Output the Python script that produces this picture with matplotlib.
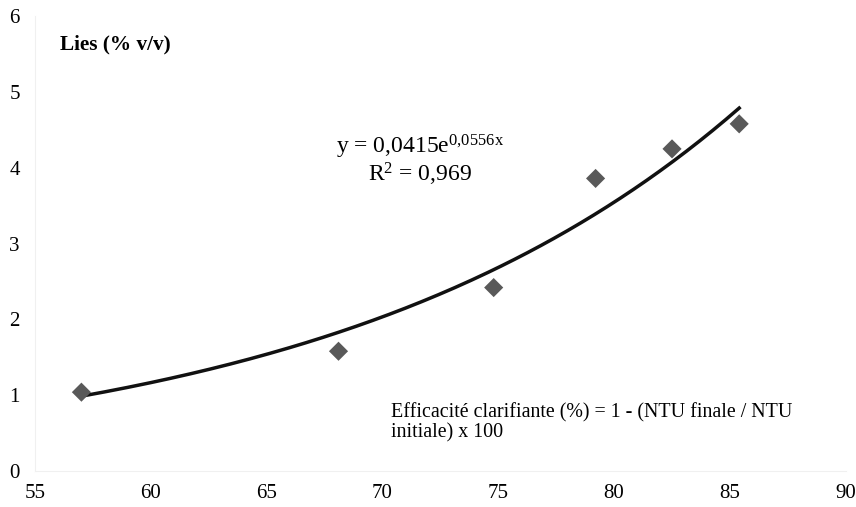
"""Lies vs efficacité clarifiante, with exponential trendline."""
import numpy as np
import matplotlib
matplotlib.use("Agg")
import matplotlib.pyplot as plt

plt.rcParams["font.family"] = ["Liberation Serif", "DejaVu Serif"]
plt.rcParams["mathtext.fontset"] = "custom"
plt.rcParams["mathtext.rm"] = "Liberation Serif"
plt.rcParams["mathtext.it"] = "Liberation Serif"

# data
efficacite = [57.0, 68.1, 74.8, 79.2, 82.5, 85.4]
lies = [1.04, 1.58, 2.42, 3.86, 4.25, 4.58]

# trendline y = a * exp(b x), as printed on the chart
coef_a = 0.0415
coef_b = 0.0556
x_ticks = [55, 60, 65, 70, 75, 80, 85, 90]
y_ticks = [0, 1, 2, 3, 4, 5, 6]

fig = plt.figure(figsize=(8.56, 5.07), dpi=100)
ax = fig.add_axes([0.041, 0.071, 0.947, 0.897])

x_fit = np.linspace(min(efficacite), max(efficacite), 200)
ax.plot(x_fit, coef_a * np.exp(coef_b * x_fit), color="#111111", lw=2.5, zorder=2)
ax.scatter(efficacite, lies, marker="D", s=95, color="#595959", zorder=3,
           edgecolors="none")

ax.set_xlim(55, 90)
ax.set_ylim(0, 6)
ax.set_xticks(x_ticks)
ax.set_yticks(y_ticks)
ax.tick_params(length=0, labelsize=15)
ax.tick_params(axis="x", pad=9)
ax.tick_params(axis="y", pad=11)
for side in ("top", "right"):
    ax.spines[side].set_visible(False)
for side in ("left", "bottom"):
    ax.spines[side].set_color("#f0f0f0")
    ax.spines[side].set_linewidth(0.8)

ax.text(56.08, 5.63, "Lies (% v/v)", fontsize=15.3, fontweight="bold",
        va="center", ha="left")
ax.text(71.6, 4.27, r"y = 0,0415e$^{0{,}0556x}$", fontsize=17,
        ha="center", va="center")
ax.text(71.6, 3.91, r"R$^{2}$ = 0,969", fontsize=17, ha="center", va="center")
ax.text(70.37, 0.9, "Efficacité clarifiante (%) = 1 - (NTU finale / NTU\ninitiale) x 100",
        fontsize=14.4, ha="left", va="top", linespacing=1.1)

fig.savefig("out.png", dpi=100)
plt.close(fig)
